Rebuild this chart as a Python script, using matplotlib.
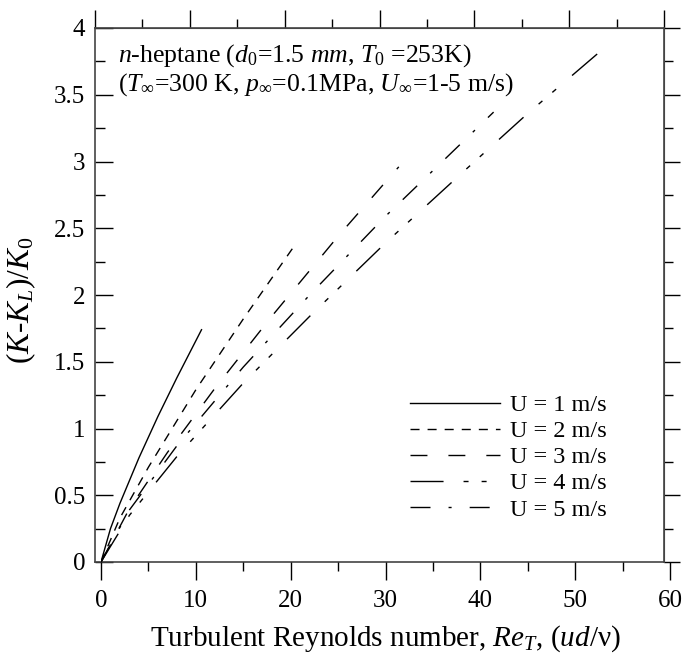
import matplotlib
matplotlib.use('Agg')
import matplotlib.pyplot as plt
from matplotlib.ticker import MultipleLocator, FuncFormatter

plt.rcParams['font.family'] = 'Liberation Serif'
plt.rcParams['mathtext.fontset'] = 'custom'
plt.rcParams['mathtext.rm'] = 'Liberation Serif'
plt.rcParams['mathtext.it'] = 'Liberation Serif:italic'

# values: Re_T vs (K-K_L)/K_0
re_u1 = [0, 1, 2, 4, 6, 8, 10.6]
k_u1 = [0, 0.25, 0.44, 0.78, 1.09, 1.38, 1.74]
re_u2 = [0, 2, 5, 10, 15, 20.6]
k_u2 = [0, 0.33, 0.71, 1.29, 1.82, 2.39]
re_u3 = [0, 3, 7, 12, 18, 25, 31.4]
k_u3 = [0, 0.40, 0.82, 1.30, 1.84, 2.44, 2.96]
re_u4 = [0, 3, 8, 15, 22, 30, 38, 45, 52.4]
k_u4 = [0, 0.35, 0.79, 1.34, 1.84, 2.39, 2.91, 3.36, 3.81]
re_u5 = [0, 3, 8, 15, 22, 30, 36, 41.4]
k_u5 = [0, 0.39, 0.87, 1.46, 2.00, 2.59, 3.00, 3.37]

labels = ['U = 1 m/s', 'U = 2 m/s', 'U = 3 m/s', 'U = 4 m/s', 'U = 5 m/s']
series = [(re_u1, k_u1), (re_u2, k_u2), (re_u3, k_u3), (re_u4, k_u4), (re_u5, k_u5)]
styles = ['-',
          (0, (6.5, 5.8)),
          (0, (12.2, 15.1)),
          (0, (23.8, 14.4, 3.6, 9.4, 3.6, 15.1)),
          (0, (14.4, 13, 2.2, 13))]

W, H = 687, 653
fig = plt.figure(figsize=(W / 100, H / 100), dpi=100)

# frame axes (box, y ticks, top ticks)
ax = fig.add_axes([95 / W, 1 - 562 / H, 569 / W, 534 / H])
ax.set_xlim(0, 60)
ax.set_ylim(0, 4)
for s in ax.spines.values():
    s.set_linewidth(1.2)
    s.set_color('#444444')
ax.xaxis.set_visible(False)
ax.yaxis.set_major_locator(MultipleLocator(0.5))
ax.yaxis.set_minor_locator(MultipleLocator(0.25))
ax.yaxis.set_major_formatter(FuncFormatter(lambda v, p: '%g' % v))
ax.tick_params(axis='y', which='major', direction='in', length=13, width=1, pad=7, labelsize=18)
ax.tick_params(axis='y', which='minor', direction='in', length=7, width=1)

top = ax.secondary_xaxis('top')
top.spines['top'].set_color('#444444')
top.xaxis.set_major_locator(MultipleLocator(10))
top.xaxis.set_minor_locator(MultipleLocator(5))
top.tick_params(which='major', direction='out', length=13, width=1, labeltop=False)
top.tick_params(which='minor', direction='out', length=6.5, width=1)

right = ax.secondary_yaxis('right')
right.spines['right'].set_color('#444444')
right.yaxis.set_major_locator(MultipleLocator(0.5))
right.yaxis.set_minor_locator(MultipleLocator(0.25))
right.tick_params(which='major', direction='out', length=11.5, width=1, labelright=False)
right.tick_params(which='minor', direction='out', length=6.5, width=1)

ax.set_ylabel(r'($K$-$K_L$)/$K_{\mathit{0}}$', fontsize=22.5)
ax.yaxis.set_label_coords(-0.100, 0.49)

ax.text(0.040, 0.938, r'$n$-heptane ($d_{\mathit{0}}$=1.5 $mm$, $T_{\mathit{0}}$ =253K)',
        transform=ax.transAxes, fontsize=18.5, va='baseline')
ax.text(0.040, 0.882, r'($T_\infty$=300 K, $p_\infty$=0.1MPa, $U_\infty$=1-5 m/s)',
        transform=ax.transAxes, fontsize=18.5, va='baseline')

# data axes, bottom scale sits slightly right of the frame
ax2 = fig.add_axes([101 / W, 1 - 562 / H, 569 / W, 534 / H])
ax2.patch.set_visible(False)
for s in ax2.spines.values():
    s.set_visible(False)
ax2.set_xlim(0, 60)
ax2.set_ylim(0, 4)
ax2.yaxis.set_visible(False)
ax2.xaxis.set_major_locator(MultipleLocator(10))
ax2.xaxis.set_minor_locator(MultipleLocator(5))
ax2.tick_params(axis='x', which='major', direction='out', length=13, width=1, pad=7.5, labelsize=18)
ax2.tick_params(axis='x', which='minor', direction='out', length=6.5, width=1)

for (xs, ys), ls, lab in zip(series, styles, labels):
    ax2.plot(xs, ys, color='black', lw=1.0, linestyle=ls, label=lab)

ax2.set_xlabel(r'Turbulent Reynolds number, $Re_T$, ($ud$/ν)', fontsize=21)
ax2.xaxis.set_label_coords(0.5, -0.114)

ax2.legend(loc='upper left', bbox_to_anchor=(410 / W, 1 - 394 / H),
           bbox_transform=fig.transFigure, frameon=False, borderpad=0, borderaxespad=0,
           fontsize=17.5, handlelength=3.7, handletextpad=0.41, labelspacing=0.17)

fig.savefig('out.png', dpi=100)
